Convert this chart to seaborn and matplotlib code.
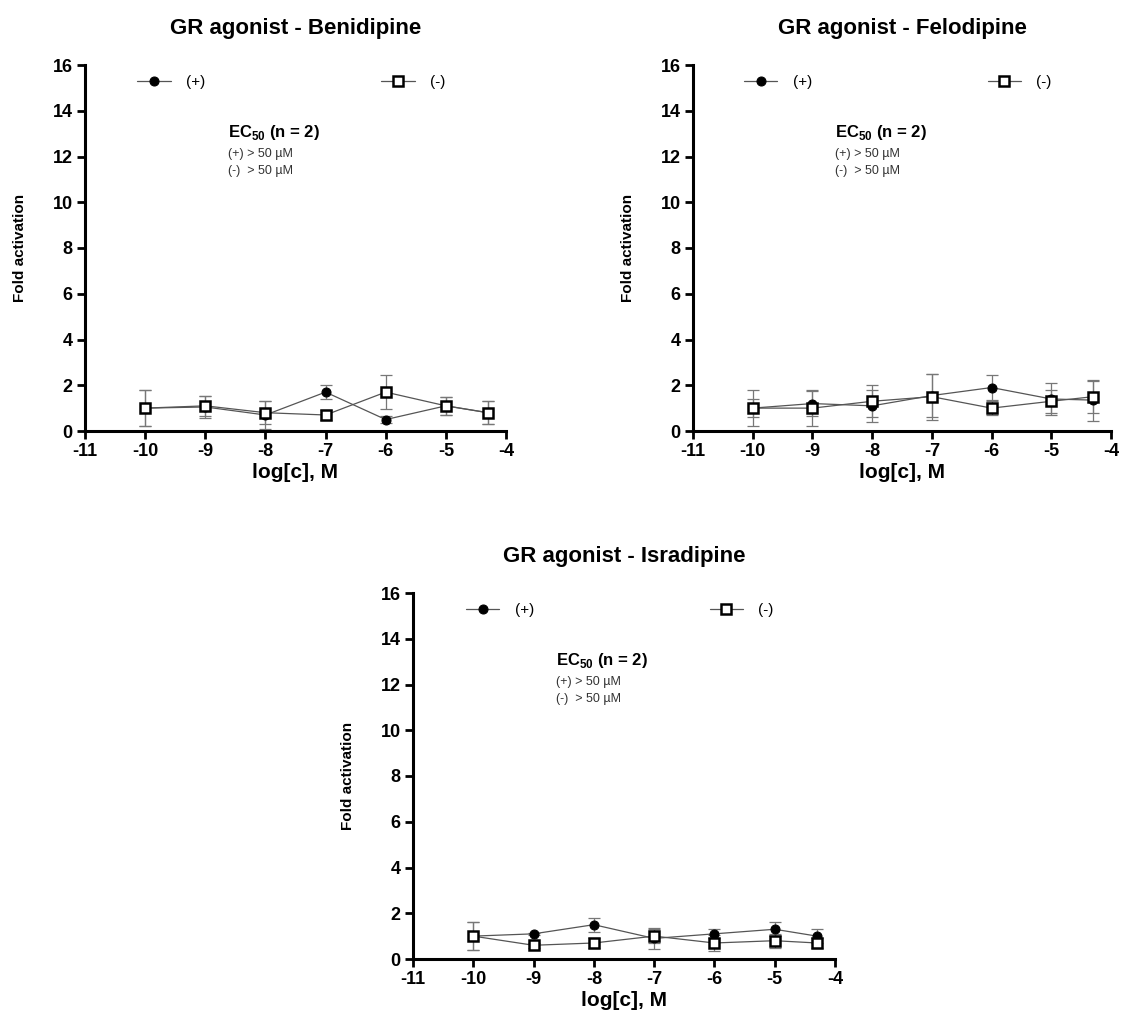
import matplotlib
matplotlib.use("Agg")
import matplotlib.pyplot as plt
import numpy as np
import seaborn as sns

sns.set_theme(style="white")
plt.rcParams["font.family"] = ["Liberation Sans", "DejaVu Sans"]
plt.rcParams["mathtext.fontset"] = "custom"
plt.rcParams["mathtext.rm"] = "Liberation Sans"
plt.rcParams["mathtext.bf"] = "Liberation Sans:bold"
plt.rcParams["axes.unicode_minus"] = False
for key in ("text.color", "axes.labelcolor", "xtick.color", "ytick.color"):
    plt.rcParams[key] = "black"

log_conc = [-10, -9, -8, -7, -6, -5, -4.3]

benidipine_plus = [1.0, 1.05, 0.7, 1.7, 0.5, 1.1, 0.8]
benidipine_plus_err = [0.8, 0.5, 0.6, 0.3, 0.15, 0.4, 0.5]
benidipine_minus = [1.0, 1.1, 0.8, 0.7, 1.7, 1.1, 0.8]
benidipine_minus_err = [0.8, 0.45, 0.5, 0.2, 0.75, 0.4, 0.5]

felodipine_plus = [1.0, 1.2, 1.1, 1.55, 1.9, 1.4, 1.35]
felodipine_plus_err = [0.8, 0.55, 0.7, 0.95, 0.55, 0.7, 0.9]
felodipine_minus = [1.0, 1.0, 1.3, 1.5, 1.0, 1.3, 1.5]
felodipine_minus_err = [0.4, 0.8, 0.7, 1.0, 0.3, 0.5, 0.7]

isradipine_plus = [1.0, 1.1, 1.5, 0.9, 1.1, 1.3, 1.0]
isradipine_plus_err = [0.6, 0.05, 0.3, 0.45, 0.2, 0.3, 0.3]
isradipine_minus = [1.0, 0.6, 0.7, 1.0, 0.7, 0.8, 0.7]
isradipine_minus_err = [0.6, 0.1, 0.2, 0.3, 0.35, 0.3, 0.2]

panels = [
    ("Benidipine", benidipine_plus, benidipine_plus_err, benidipine_minus, benidipine_minus_err),
    ("Felodipine", felodipine_plus, felodipine_plus_err, felodipine_minus, felodipine_minus_err),
    ("Isradipine", isradipine_plus, isradipine_plus_err, isradipine_minus, isradipine_minus_err),
]

W, H = 1128, 1026
# axes boxes in pixels: left, top, right, bottom
boxes = [(85, 65, 506, 431), (693, 65, 1111, 431), (413, 593, 835, 959)]


def draw_panel(ax, name, plus, plus_err, minus, minus_err):
    for y, err in ((plus, plus_err), (minus, minus_err)):
        ax.errorbar(log_conc, y, yerr=err, fmt="none", ecolor="#777777",
                    elinewidth=0.9, capsize=4, capthick=0.9, zorder=2)
    sns.lineplot(x=log_conc, y=plus, ax=ax, color="#555555", linewidth=0.9,
                 marker="o", markersize=6.5, markerfacecolor="black",
                 markeredgecolor="black", label="(+)", zorder=3)
    sns.lineplot(x=log_conc, y=minus, ax=ax, color="#555555", linewidth=0.9,
                 marker="s", markersize=6.5, markerfacecolor="white",
                 markeredgecolor="black", markeredgewidth=1.8, label="(-)", zorder=4)

    ax.set_xlim(-11, -4)
    ax.set_ylim(0, 16)
    ax.set_xticks(range(-11, -3))
    ax.set_yticks(range(0, 17, 2))
    for s in ("top", "right"):
        ax.spines[s].set_visible(False)
    for s in ("left", "bottom"):
        ax.spines[s].set_linewidth(2.2)
        ax.spines[s].set_color("black")
    ax.tick_params(axis="both", direction="out", length=6, width=2,
                   color="black", labelsize=13, left=True, bottom=True, pad=3)
    for lab in ax.get_xticklabels() + ax.get_yticklabels():
        lab.set_fontweight("bold")
    ax.set_xlabel("log[c], M", fontsize=15, fontweight="bold", labelpad=2)
    ax.set_ylabel("Fold activation", fontsize=11, fontweight="bold", labelpad=18)
    ax.set_title(f"GR agonist - {name}", fontsize=16, fontweight="bold", pad=22)

    ax.legend(loc="upper center", bbox_to_anchor=(0.49, 1.01), ncol=2,
              frameon=False, fontsize=11, columnspacing=11.5, handlelength=2.2,
              handletextpad=1.0)

    ax.text(0.34, 0.815, r"EC$_{\mathbf{50}}$ (n = 2)", transform=ax.transAxes,
            fontsize=12, fontweight="bold", va="center")
    ax.text(0.34, 0.757, "(+) > 50 µM", transform=ax.transAxes,
            fontsize=9, color="#333333", va="center")
    ax.text(0.34, 0.71, "(-)  > 50 µM", transform=ax.transAxes,
            fontsize=9, color="#333333", va="center")


fig = plt.figure(figsize=(W / 100, H / 100), dpi=100)
for (l, t, r, b), panel in zip(boxes, panels):
    ax = fig.add_axes([l / W, 1 - b / H, (r - l) / W, (b - t) / H])
    draw_panel(ax, *panel)

fig.savefig("out.png", dpi=100, facecolor="white")
